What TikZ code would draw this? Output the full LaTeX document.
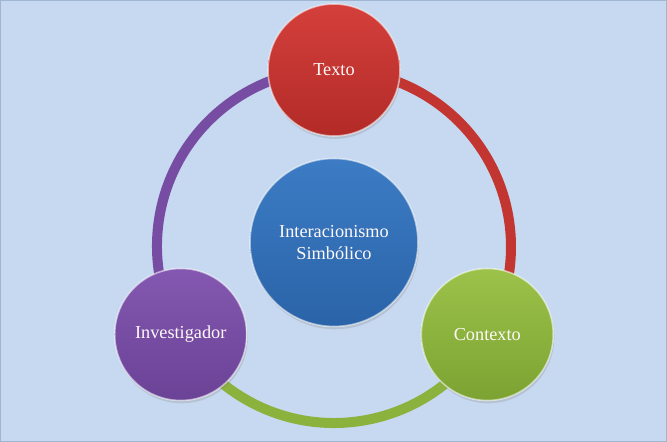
\documentclass[tikz,border=0pt]{standalone}
\usepackage{fontspec}
\setmainfont{Liberation Serif}
\usetikzlibrary{shadows,backgrounds}
\definecolor{bgblue}{HTML}{C6D9F0}
\definecolor{framecol}{HTML}{9FB6D2}
\definecolor{redtop}{HTML}{D4403C}
\definecolor{redbot}{HTML}{B22A27}
\definecolor{greentop}{HTML}{9CC24A}
\definecolor{greenbot}{HTML}{7CA332}
\definecolor{purpletop}{HTML}{8458B0}
\definecolor{purplebot}{HTML}{6A4296}
\definecolor{bluetop}{HTML}{3C7CC4}
\definecolor{bluebot}{HTML}{2A63A8}

\begin{document}
\begin{tikzpicture}[
	x=0.02cm, y=0.02cm,
	ball/.style 2 args={circle, minimum size=2.64cm, inner sep=0pt, align=center,
		top color=#1, bottom color=#2, draw=white, draw opacity=0.55, line width=0.9pt,
		text=white!90!pink, font=\fontsize{10.4}{12.2}\selectfont,
		drop shadow={opacity=0.25, shadow xshift=0.6pt, shadow yshift=-1.6pt}},
	link/.style={line width=0.2cm},
	]
	\useasboundingbox (0,0) rectangle (667,442);
	\begin{scope}[on background layer]
		\draw[fill=bgblue, draw=framecol, line width=1pt] (0.5,0.5) rectangle (666.5,441.5);
	\end{scope}
	\coordinate (ring) at (334,196);
	\node[ball={bluetop}{bluebot}, minimum size=3.36cm] (centro) at ([yshift=2]ring) {Interacionismo\\Simbólico};
	\node[ball={redtop}{redbot}] (texto) at ([shift={(90:176)}]ring) {Texto};
	\node[ball={greentop}{greenbot}] (contexto) at ([shift={(-30:177)}]ring) {Contexto};
	\node[ball={purpletop}{purplebot}] (investigador) at ([shift={(210:177)}]ring) {Investigador};
	\begin{scope}[on background layer]
		\draw[link, redtop!50!redbot] (texto.center) arc[start angle=90, end angle=-30, radius=177];
		\draw[link, greentop!50!greenbot] (contexto.center) arc[start angle=-30, end angle=-150, radius=177];
		\draw[link, purpletop!50!purplebot] (investigador.center) arc[start angle=210, end angle=90, radius=177];
	\end{scope}
\end{tikzpicture}
\end{document}
